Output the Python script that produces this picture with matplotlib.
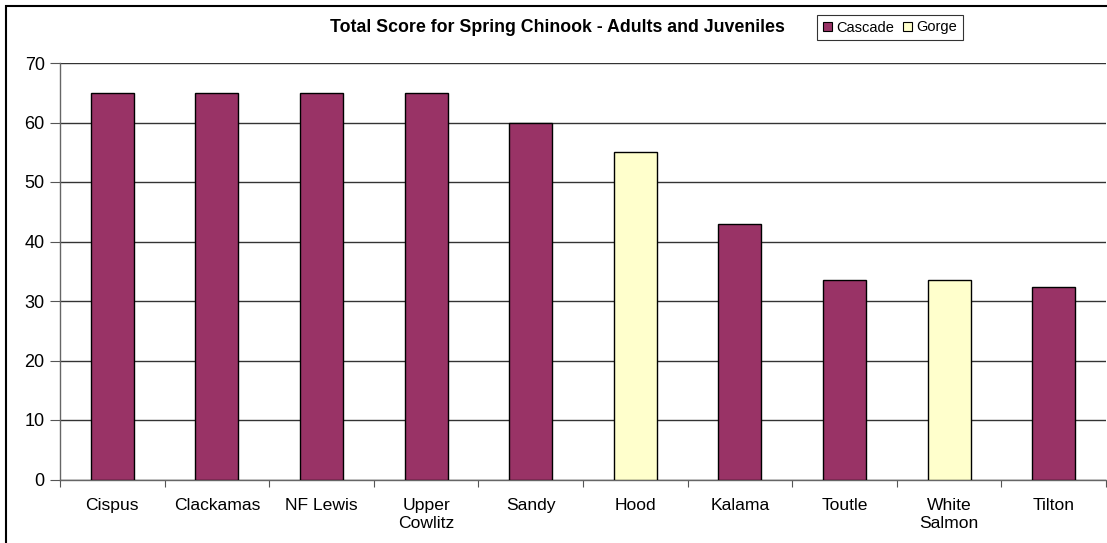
import matplotlib
matplotlib.use('Agg')
import matplotlib.pyplot as plt
from matplotlib.patches import Rectangle, Patch

# total scores per population
rivers = ['Cispus', 'Clackamas', 'NF Lewis', 'Upper\nCowlitz', 'Sandy',
          'Hood', 'Kalama', 'Toutle', 'White\nSalmon', 'Tilton']
scores = [65, 65, 65, 65, 60, 55, 43, 33.6, 33.6, 32.3]
strata = ['Cascade', 'Cascade', 'Cascade', 'Cascade', 'Cascade',
          'Gorge', 'Cascade', 'Cascade', 'Gorge', 'Cascade']
strata_colors = {'Cascade': '#993366', 'Gorge': '#FFFFCC'}

plt.rcParams['font.family'] = ['Liberation Sans', 'DejaVu Sans']

W, H = 1107, 543
fig = plt.figure(figsize=(W / 100, H / 100), dpi=100)
ax = fig.add_axes([60 / W, 63.5 / H, 1046 / W, 416.5 / H])

xs = range(len(rivers))
ax.bar(xs, scores, width=0.41,
       color=[strata_colors[s] for s in strata],
       edgecolor='black', linewidth=1.0, zorder=3)

ax.set_xlim(-0.5, len(rivers) - 0.5)
ax.set_ylim(0, 70)
ax.set_yticks(range(0, 71, 10))
ax.yaxis.grid(True, color='#333333', linewidth=1.0, zorder=0)

# ticks between categories
ax.set_xticks([i - 0.5 for i in range(len(rivers) + 1)])
ax.set_xticklabels([])
ax.set_xticks(list(xs), minor=True)
ax.set_xticklabels(rivers, minor=True, fontsize=12.6, linespacing=1.32)
ax.tick_params(axis='x', which='minor', length=0, pad=13)
ax.tick_params(axis='x', which='major', length=5, color='#555555')
ax.tick_params(axis='y', length=7, color='#555555', labelsize=13, pad=4)

for side in ['top', 'right']:
    ax.spines[side].set_visible(False)
for side in ['left', 'bottom']:
    ax.spines[side].set_color('#666666')
    ax.spines[side].set_linewidth(1.0)

fig.text(557 / W, 1 - 27 / H, 'Total Score for Spring Chinook - Adults and Juveniles',
         ha='center', va='center', fontsize=12.8, fontweight='bold')

handles = [Patch(facecolor=strata_colors[k], edgecolor='black', linewidth=0.8)
           for k in ['Cascade', 'Gorge']]
leg = fig.legend(handles, ['Cascade', 'Gorge'], ncol=2, fontsize=10.5,
                 loc='center', bbox_to_anchor=(890 / W, 1 - 27.5 / H),
                 frameon=True, fancybox=False, edgecolor='black',
                 handlelength=0.6, handleheight=0.6, handletextpad=0.3,
                 columnspacing=0.6, borderpad=0.4, borderaxespad=0)
leg.get_frame().set_linewidth(0.8)

# chart-area border
fig.add_artist(Rectangle((6 / W, -0.1), 1.2, 1 - 6 / H + 0.1,
                         transform=fig.transFigure, fill=False,
                         edgecolor='black', linewidth=1.5))

fig.savefig('out.png', dpi=100)
